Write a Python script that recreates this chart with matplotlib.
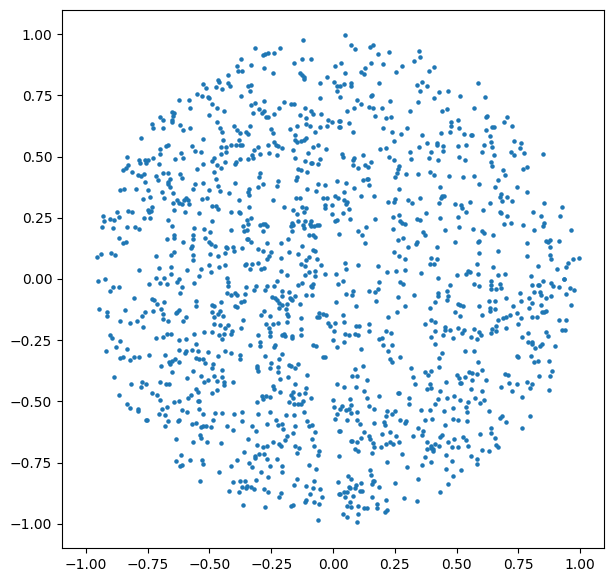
import matplotlib
matplotlib.use("Agg")
import matplotlib.pyplot as plt
import numpy as np

# Sampled points of the unit disc, grouped by quadrant as (x, y) pairs.
upper_left = [
(-0.120,0.974),(-0.315,0.941),(-0.213,0.941),(-0.282,0.913),(-0.274,0.917),(-0.262,0.921),(-0.238,0.921),(-0.371,0.896),(-0.124,0.896),(-0.088,0.900),
(-0.157,0.880),(-0.387,0.868),(-0.331,0.872),(-0.383,0.847),(-0.367,0.851),(-0.278,0.860),(-0.242,0.839),(-0.132,0.839),(-0.124,0.834),(-0.116,0.826),
(-0.116,0.815),(-0.424,0.831),(-0.023,0.823),(0.009,0.868),(0.005,0.806),(-0.051,0.802),(-0.464,0.811),(-0.460,0.806),(-0.525,0.794),(-0.424,0.798),
(-0.416,0.786),(-0.513,0.778),(-0.473,0.782),(-0.448,0.774),(-0.343,0.786),(-0.331,0.790),(-0.335,0.766),(0.018,0.786),(0.018,0.766),(-0.549,0.755),
(-0.529,0.749),(-0.505,0.741),(-0.501,0.737),(-0.371,0.745),(-0.051,0.737),(-0.622,0.729),(-0.582,0.729),(-0.278,0.725),(-0.197,0.721),(-0.315,0.717),
(-0.331,0.709),(-0.489,0.713),(-0.169,0.713),(-0.157,0.713),(-0.578,0.696),(-0.468,0.696),(-0.217,0.700),(-0.112,0.696),(-0.298,0.692),(-0.278,0.684),
(-0.286,0.676),(-0.440,0.684),(-0.323,0.676),(-0.088,0.684),(-0.080,0.672),(-0.653,0.680),(-0.642,0.676),(-0.646,0.664),(-0.653,0.651),(-0.650,0.642),
(-0.501,0.668),(-0.699,0.660),(-0.687,0.647),(-0.270,0.660),(-0.262,0.660),(-0.238,0.672),(-0.132,0.668),(-0.108,0.656),(-0.047,0.672),(-0.019,0.651),
(-0.003,0.639),(0.026,0.643),(-0.468,0.639),(-0.732,0.631),(-0.618,0.627),(-0.400,0.623),(-0.335,0.623),(-0.108,0.631),(-0.092,0.623),(-0.144,0.623),
(-0.051,0.619),(-0.023,0.623),(0.026,0.619),(-0.728,0.615),(-0.687,0.615),(-0.606,0.607),(-0.578,0.615),(-0.456,0.615),(-0.448,0.598),(-0.387,0.607),
(-0.375,0.594),(-0.351,0.602),(-0.343,0.590),(-0.250,0.611),(-0.242,0.594),(-0.173,0.611),(-0.072,0.598),(-0.153,0.586),(-0.776,0.574),(-0.525,0.570),
(-0.444,0.566),(-0.379,0.566),(-0.153,0.566),(-0.144,0.558),(-0.128,0.562),(-0.116,0.566),(-0.108,0.574),(-0.238,0.558),(-0.229,0.549),(-0.221,0.541),
(-0.205,0.533),(-0.262,0.549),(-0.412,0.549),(-0.392,0.545),(-0.375,0.545),(-0.367,0.545),(-0.059,0.549),(-0.080,0.537),(-0.452,0.537),(-0.432,0.537),
(-0.570,0.541),(-0.674,0.541),(-0.667,0.545),(-0.699,0.529),(-0.305,0.537),(-0.319,0.525),(-0.557,0.521),(-0.536,0.517),(-0.027,0.529),(-0.161,0.525),
(-0.100,0.513),(-0.699,0.509),(-0.614,0.513),(-0.432,0.517),(-0.452,0.509),(-0.258,0.513),(-0.294,0.509),(-0.225,0.505),(-0.329,0.505),(-0.323,0.492),
(-0.343,0.488),(-0.833,0.496),(-0.480,0.492),(-0.489,0.480),(-0.606,0.492),(-0.639,0.488),(-0.784,0.484),(-0.780,0.472),(-0.760,0.484),(-0.756,0.472),
(-0.748,0.484),(-0.728,0.492),(-0.392,0.478),(-0.375,0.488),(-0.396,0.468),(-0.153,0.492),(-0.051,0.488),(-0.112,0.480),(-0.088,0.472),(-0.084,0.472),
(-0.059,0.468),(-0.703,0.468),(-0.436,0.476),(-0.525,0.468),(-0.829,0.464),(-0.837,0.452),(-0.849,0.443),(-0.468,0.464),(-0.452,0.452),(-0.549,0.447),
(-0.140,0.447),(-0.128,0.443),(-0.104,0.435),(-0.480,0.435),(-0.813,0.435),(-0.294,0.431),(-0.298,0.415),(-0.788,0.424),(-0.776,0.419),(-0.764,0.427),
(-0.718,0.419),(-0.710,0.403),(-0.687,0.431),(-0.667,0.431),(-0.618,0.427),(-0.610,0.411),(-0.144,0.415),(-0.149,0.403),(-0.473,0.407),(-0.659,0.407),
(-0.667,0.394),(-0.667,0.386),(-0.659,0.374),(-0.760,0.394),(-0.525,0.390),(-0.557,0.386),(-0.566,0.366),(-0.396,0.390),(-0.221,0.398),(-0.225,0.378),
(-0.282,0.386),(-0.302,0.374),(0.018,0.398),(-0.059,0.386),(-0.031,0.382),(-0.464,0.378),(-0.456,0.358),(-0.861,0.362),(-0.845,0.366),(-0.796,0.366),
(-0.748,0.362),(-0.501,0.362),(-0.339,0.366),(-0.343,0.354),(-0.339,0.341),(-0.104,0.366),(-0.067,0.358),(-0.692,0.354),(-0.646,0.350),(-0.420,0.350),
(-0.741,0.333),(-0.768,0.325),(-0.685,0.329),(-0.529,0.325),(-0.509,0.329),(-0.594,0.329),(-0.602,0.321),(-0.586,0.321),(-0.582,0.305),(-0.610,0.305),
(-0.622,0.309),(-0.630,0.321),(-0.646,0.309),(-0.379,0.321),(-0.242,0.321),(-0.149,0.329),(-0.132,0.329),(-0.039,0.329),(-0.023,0.329),(0.009,0.337),
(0.022,0.329),(-0.489,0.296),(-0.473,0.296),(-0.464,0.284),(-0.031,0.301),(-0.031,0.288),(-0.003,0.301),(-0.339,0.292),(-0.197,0.292),(-0.124,0.292),
(-0.108,0.288),(-0.116,0.272),(-0.161,0.280),(-0.733,0.292),(-0.749,0.280),(-0.737,0.276),(-0.745,0.272),(-0.642,0.280),(-0.829,0.276),(-0.813,0.272),
(-0.873,0.272),(-0.598,0.272),(-0.541,0.268),(-0.412,0.272),(-0.379,0.272),(-0.375,0.268),(-0.003,0.264),(-0.144,0.264),(-0.930,0.256),(-0.866,0.252),
(-0.764,0.248),(-0.740,0.248),(-0.331,0.248),(-0.902,0.243),(-0.886,0.239),(-0.926,0.235),(-0.667,0.239),(-0.489,0.235),(-0.350,0.239),(-0.343,0.223),
(-0.363,0.215),(-0.112,0.235),(-0.088,0.235),(-0.140,0.235),(0.018,0.239),(0.009,0.235),(-0.165,0.227),(-0.169,0.215),(-0.161,0.219),(-0.294,0.219),
(-0.282,0.223),(-0.274,0.223),(-0.266,0.215),(-0.120,0.219),(-0.116,0.207),(-0.092,0.223),(-0.088,0.215),(-0.076,0.215),(-0.063,0.219),(-0.055,0.219),
(-0.935,0.211),(-0.890,0.207),(-0.833,0.211),(-0.800,0.211),(-0.784,0.203),(-0.650,0.215),(-0.562,0.207),(-0.521,0.203),(-0.412,0.199),(-0.359,0.194),
(-0.347,0.199),(-0.282,0.194),(-0.165,0.194),(-0.496,0.190),(-0.642,0.179),(-0.642,0.166),(-0.671,0.162),(-0.566,0.179),(-0.566,0.162),(-0.517,0.166),
(-0.096,0.179),(-0.080,0.179),(-0.072,0.170),(0.026,0.182),(-0.866,0.166),(-0.181,0.162),(-0.350,0.162),(-0.343,0.162),(-0.331,0.150),(-0.849,0.146),
(-0.837,0.150),(-0.606,0.150),(-0.501,0.150),(-0.493,0.141),(-0.477,0.133),(-0.266,0.146),(-0.209,0.146),(-0.570,0.133),(-0.574,0.125),(-0.124,0.133),
(-0.432,0.129),(-0.428,0.125),(-0.403,0.129),(-0.399,0.113),(-0.367,0.125),(-0.302,0.121),(-0.282,0.113),(-0.080,0.117),(-0.072,0.113),(-0.642,0.109),
(-0.655,0.097),(-0.938,0.101),(-0.898,0.105),(-0.882,0.097),(-0.954,0.088),(-0.715,0.092),(-0.566,0.097),(-0.566,0.076),(-0.496,0.101),(-0.464,0.092),
(-0.436,0.105),(-0.177,0.109),(-0.140,0.101),(-0.250,0.109),(-0.258,0.092),(-0.266,0.080),(-0.209,0.084),(-0.096,0.088),(-0.108,0.076),(-0.063,0.080),
(-0.128,0.060),(-0.112,0.052),(-0.047,0.056),(-0.351,0.060),(-0.355,0.056),(-0.327,0.060),(-0.335,0.039),(-0.302,0.064),(-0.290,0.039),(-0.278,0.044),
(-0.501,0.056),(-0.436,0.056),(-0.460,0.048),(-0.493,0.027),(-0.703,0.044),(-0.655,0.048),(-0.590,0.035),(-0.533,0.039),(-0.784,0.035),(-0.655,0.019),
(-0.541,0.011),(-0.209,0.031),(-0.185,0.015),(-0.096,0.027),(-0.112,0.015),(-0.072,0.031),(-0.072,0.011),(-0.031,0.019),(0.013,0.019),(-0.715,0.003),
(-0.683,0.003),(-0.622,-0.001),(-0.922,-0.001),(-0.428,0.003),
]
upper_right = [
(0.050,0.994),(0.074,0.957),(0.090,0.937),(0.151,0.949),(0.163,0.957),(0.228,0.925),(0.184,0.917),(0.350,0.929),(0.354,0.908),(0.329,0.888),
(0.034,0.880),(0.155,0.880),(0.204,0.876),(0.131,0.860),(0.115,0.843),(0.127,0.835),(0.281,0.868),(0.410,0.864),(0.390,0.851),(0.050,0.839),
(0.257,0.843),(0.188,0.802),(0.362,0.806),(0.342,0.790),(0.382,0.786),(0.585,0.798),(0.074,0.798),(0.074,0.786),(0.046,0.794),(0.028,0.786),
(0.354,0.766),(0.431,0.762),(0.467,0.766),(0.155,0.745),(0.159,0.753),(0.030,0.741),(0.516,0.745),(0.617,0.741),(0.410,0.737),(0.099,0.729),
(0.115,0.713),(0.232,0.725),(0.346,0.721),(0.147,0.704),(0.163,0.696),(0.200,0.696),(0.086,0.696),(0.058,0.684),(0.313,0.684),(0.572,0.700),
(0.443,0.684),(0.463,0.692),(0.171,0.664),(0.216,0.656),(0.236,0.660),(0.621,0.660),(0.625,0.664),(0.706,0.660),(0.694,0.639),(0.726,0.623),
(0.508,0.651),(0.479,0.639),(0.479,0.623),(0.066,0.635),(0.030,0.643),(0.030,0.619),(0.645,0.619),(0.653,0.619),(0.204,0.615),(0.301,0.615),
(0.512,0.615),(0.082,0.602),(0.475,0.602),(0.621,0.607),(0.240,0.598),(0.277,0.590),(0.439,0.594),(0.532,0.590),(0.560,0.586),(0.564,0.586),
(0.362,0.586),(0.637,0.582),(0.248,0.562),(0.734,0.562),(0.763,0.554),(0.641,0.558),(0.613,0.549),(0.382,0.554),(0.419,0.554),(0.423,0.549),
(0.350,0.537),(0.447,0.541),(0.508,0.541),(0.540,0.545),(0.645,0.537),(0.216,0.533),(0.192,0.529),(0.755,0.533),(0.313,0.517),(0.398,0.517),
(0.447,0.521),(0.605,0.517),(0.722,0.517),(0.775,0.513),(0.734,0.505),(0.852,0.509),(0.653,0.505),(0.038,0.509),(0.042,0.500),(0.123,0.505),
(0.228,0.500),(0.248,0.484),(0.512,0.500),(0.536,0.484),(0.390,0.492),(0.427,0.484),(0.317,0.488),(0.082,0.484),(0.086,0.492),(0.155,0.476),
(0.131,0.464),(0.143,0.456),(0.641,0.476),(0.645,0.460),(0.082,0.464),(0.103,0.452),(0.269,0.460),(0.265,0.447),(0.261,0.431),(0.252,0.415),
(0.787,0.456),(0.771,0.447),(0.690,0.443),(0.698,0.423),(0.394,0.435),(0.410,0.423),(0.297,0.427),(0.346,0.427),(0.471,0.419),(0.528,0.415),
(0.572,0.419),(0.123,0.403),(0.139,0.407),(0.143,0.407),(0.054,0.390),(0.147,0.382),(0.589,0.386),(0.666,0.403),(0.086,0.370),(0.269,0.366),
(0.435,0.374),(0.657,0.374),(0.743,0.374),(0.787,0.354),(0.046,0.354),(0.115,0.337),(0.167,0.337),(0.682,0.345),(0.678,0.333),(0.706,0.333),
(0.726,0.317),(0.443,0.337),(0.439,0.329),(0.451,0.337),(0.354,0.329),(0.252,0.325),(0.248,0.313),(0.224,0.313),(0.305,0.321),(0.321,0.309),
(0.046,0.321),(0.058,0.313),(0.054,0.305),(0.431,0.309),(0.495,0.305),(0.520,0.301),(0.524,0.288),(0.556,0.313),(0.637,0.309),(0.686,0.317),
(0.856,0.309),(0.925,0.292),(0.066,0.284),(0.609,0.280),(0.674,0.272),(0.682,0.268),(0.540,0.272),(0.378,0.268),(0.042,0.268),(0.811,0.272),
(0.706,0.256),(0.844,0.256),(0.917,0.256),(0.244,0.252),(0.269,0.260),(0.508,0.252),(0.435,0.248),(0.171,0.243),(0.070,0.243),(0.342,0.243),
(0.354,0.239),(0.273,0.235),(0.281,0.227),(0.293,0.223),(0.694,0.223),(0.722,0.227),(0.771,0.219),(0.856,0.227),(0.852,0.215),(0.135,0.211),
(0.244,0.203),(0.512,0.211),(0.568,0.203),(0.455,0.199),(0.605,0.194),(0.613,0.186),(0.815,0.199),(0.965,0.199),(0.103,0.194),(0.119,0.178),
(0.366,0.190),(0.374,0.178),(0.649,0.178),(0.285,0.166),(0.265,0.158),(0.864,0.154),(0.880,0.158),(0.872,0.150),(0.913,0.154),(0.131,0.146),
(0.342,0.150),(0.338,0.141),(0.495,0.150),(0.589,0.154),(0.585,0.150),(0.787,0.146),(0.423,0.129),(0.305,0.129),(0.880,0.129),(0.248,0.109),
(0.666,0.113),(0.589,0.105),(0.269,0.092),(0.787,0.092),(0.880,0.097),(0.884,0.080),(0.293,0.080),(0.398,0.084),(0.419,0.080),(0.973,0.080),
(0.994,0.084),(0.953,0.064),(0.945,0.048),(0.394,0.060),(0.410,0.060),(0.581,0.060),(0.050,0.064),(0.103,0.056),(0.184,0.052),(0.828,0.052),
(0.649,0.048),(0.905,0.039),(0.054,0.039),(0.220,0.027),(0.257,0.031),(0.293,0.035),(0.358,0.023),(0.500,0.015),(0.540,0.019),(0.548,0.031),
(0.556,0.027),(0.585,0.019),(0.666,0.015),(0.698,0.019),(0.803,0.011),(0.427,0.003),(0.937,0.000),
]
lower_left = [
(-0.950,-0.010),(-0.699,-0.018),(-0.671,-0.022),(-0.630,-0.014),(-0.744,-0.022),(-0.562,-0.018),(-0.424,-0.014),(-0.424,-0.030),(-0.890,-0.034),(-0.865,-0.034),
(-0.902,-0.050),(-0.610,-0.034),(-0.618,-0.058),(-0.351,-0.034),(-0.311,-0.030),(-0.319,-0.046),(-0.266,-0.030),(-0.274,-0.046),(-0.238,-0.030),(-0.225,-0.010),
(-0.205,-0.050),(-0.177,-0.054),(-0.140,-0.026),(-0.124,-0.018),(-0.088,-0.030),(-0.080,-0.022),(-0.084,-0.034),(0.022,-0.022),(-0.428,-0.058),(-0.412,-0.067),
(-0.396,-0.058),(-0.388,-0.067),(-0.355,-0.063),(-0.205,-0.071),(-0.173,-0.079),(-0.165,-0.087),(-0.153,-0.071),(-0.169,-0.083),(-0.108,-0.067),(-0.084,-0.067),
(-0.246,-0.075),(-0.234,-0.079),(-0.225,-0.087),(-0.805,-0.079),(-0.732,-0.083),(-0.724,-0.087),(-0.711,-0.103),(-0.683,-0.095),(-0.554,-0.091),(-0.554,-0.112),
(-0.452,-0.095),(-0.359,-0.091),(-0.371,-0.095),(-0.491,-0.107),(-0.483,-0.112),(-0.396,-0.112),(-0.387,-0.116),(-0.217,-0.099),(-0.205,-0.107),(-0.217,-0.120),
(-0.185,-0.103),(-0.189,-0.124),(-0.132,-0.103),(0.013,-0.095),(-0.946,-0.124),(-0.915,-0.136),(-0.915,-0.152),(-0.841,-0.128),(-0.760,-0.136),(-0.772,-0.152),
(-0.792,-0.173),(-0.821,-0.181),(-0.728,-0.132),(-0.695,-0.124),(-0.687,-0.144),(-0.622,-0.128),(-0.630,-0.136),(-0.634,-0.140),(-0.489,-0.136),(-0.456,-0.132),
(-0.464,-0.144),(-0.481,-0.156),(-0.444,-0.152),(-0.278,-0.132),(-0.290,-0.148),(-0.254,-0.152),(-0.185,-0.144),(-0.181,-0.152),(-0.055,-0.140),(-0.039,-0.144),
(-0.027,-0.148),(-0.063,-0.156),(-0.055,-0.156),(-0.594,-0.156),(-0.606,-0.173),(-0.687,-0.165),(-0.667,-0.173),(-0.861,-0.173),(-0.128,-0.160),(-0.363,-0.169),
(-0.185,-0.177),(-0.481,-0.185),(-0.456,-0.189),(-0.436,-0.201),(-0.424,-0.189),(-0.270,-0.185),(-0.242,-0.185),(-0.221,-0.181),(-0.258,-0.201),(-0.019,-0.181),
(-0.011,-0.193),(0.009,-0.181),(0.005,-0.214),(-0.768,-0.197),(-0.371,-0.201),(-0.128,-0.205),(-0.408,-0.214),(-0.412,-0.226),(-0.440,-0.226),(-0.521,-0.218),
(-0.489,-0.218),(-0.562,-0.226),(-0.671,-0.226),(-0.655,-0.226),(-0.687,-0.238),(-0.715,-0.242),(-0.460,-0.230),(-0.448,-0.246),(-0.302,-0.230),(-0.254,-0.218),
(-0.254,-0.234),(-0.205,-0.230),(-0.197,-0.226),(-0.193,-0.234),(-0.165,-0.234),(-0.165,-0.242),(-0.128,-0.230),(-0.902,-0.230),(-0.894,-0.242),(-0.622,-0.250),
(-0.594,-0.246),(-0.861,-0.254),(0.001,-0.250),(-0.294,-0.258),(-0.335,-0.271),(-0.294,-0.275),(-0.554,-0.267),(-0.234,-0.271),(-0.238,-0.279),(-0.080,-0.271),
(-0.067,-0.275),(0.018,-0.279),(-0.878,-0.279),(-0.833,-0.287),(-0.918,-0.295),(-0.622,-0.291),(-0.594,-0.295),(-0.598,-0.303),(-0.570,-0.291),(-0.545,-0.295),
(-0.505,-0.299),(-0.436,-0.295),(-0.412,-0.303),(-0.744,-0.311),(-0.679,-0.311),(-0.464,-0.315),(-0.375,-0.311),(-0.375,-0.328),(-0.274,-0.315),(-0.205,-0.307),
(-0.217,-0.328),(-0.039,-0.320),(-0.031,-0.320),(-0.861,-0.324),(-0.849,-0.320),(-0.821,-0.332),(-0.805,-0.320),(-0.784,-0.320),(-0.554,-0.324),(-0.541,-0.328),
(-0.525,-0.328),(-0.517,-0.344),(-0.639,-0.328),(-0.650,-0.336),(-0.663,-0.340),(-0.659,-0.348),(-0.622,-0.340),(-0.485,-0.348),(-0.489,-0.364),(-0.250,-0.344),
(-0.254,-0.364),(-0.140,-0.348),(-0.177,-0.352),(-0.169,-0.356),(-0.153,-0.364),(-0.695,-0.356),(-0.306,-0.356),(-0.306,-0.364),(-0.302,-0.377),(-0.221,-0.360),
(-0.221,-0.381),(-0.448,-0.373),(-0.567,-0.377),(-0.650,-0.381),(-0.104,-0.393),(-0.886,-0.401),(-0.536,-0.397),(-0.480,-0.397),(-0.448,-0.401),(-0.590,-0.405),
(-0.213,-0.409),(-0.181,-0.401),(-0.505,-0.413),(-0.521,-0.421),(-0.468,-0.418),(-0.440,-0.421),(-0.440,-0.434),(-0.406,-0.421),(-0.817,-0.430),(-0.772,-0.421),
(-0.756,-0.430),(-0.776,-0.442),(-0.699,-0.421),(-0.675,-0.430),(-0.663,-0.430),(-0.153,-0.430),(-0.108,-0.446),(0.018,-0.430),(-0.242,-0.438),(-0.238,-0.450),
(-0.554,-0.450),(-0.545,-0.462),(-0.468,-0.454),(-0.489,-0.466),(-0.213,-0.462),(-0.161,-0.462),(-0.169,-0.475),(-0.161,-0.484),(-0.136,-0.471),(-0.112,-0.466),
(-0.732,-0.466),(-0.711,-0.475),(-0.865,-0.475),(-0.574,-0.475),(-0.586,-0.487),(-0.286,-0.479),(-0.270,-0.479),(-0.254,-0.483),(-0.282,-0.491),(-0.088,-0.487),
(-0.699,-0.495),(-0.642,-0.503),(-0.622,-0.499),(-0.548,-0.499),(-0.544,-0.499),(0.001,-0.495),(-0.177,-0.503),(-0.157,-0.511),(-0.140,-0.511),(-0.128,-0.511),
(-0.120,-0.499),(-0.306,-0.503),(-0.833,-0.511),(-0.821,-0.528),(-0.788,-0.532),(-0.788,-0.540),(-0.671,-0.524),(-0.691,-0.532),(-0.541,-0.532),(-0.610,-0.536),
(-0.590,-0.544),(0.005,-0.524),(-0.477,-0.548),(-0.448,-0.548),(-0.400,-0.552),(-0.367,-0.544),(-0.254,-0.544),(-0.302,-0.552),(-0.116,-0.544),(-0.525,-0.552),
(-0.703,-0.552),(-0.679,-0.556),(-0.189,-0.556),(-0.157,-0.556),(0.018,-0.552),(0.009,-0.573),(-0.667,-0.581),(-0.622,-0.577),(-0.626,-0.581),(-0.756,-0.577),
(-0.752,-0.577),(-0.487,-0.577),(-0.367,-0.581),(-0.229,-0.577),(-0.104,-0.581),(-0.570,-0.593),(-0.554,-0.589),(-0.266,-0.593),(-0.221,-0.597),(-0.205,-0.593),
(-0.084,-0.597),(-0.096,-0.601),(-0.536,-0.605),(-0.525,-0.601),(-0.513,-0.601),(-0.493,-0.605),(-0.679,-0.601),(-0.428,-0.601),(-0.327,-0.601),(-0.153,-0.601),
(-0.404,-0.617),(-0.311,-0.622),(-0.201,-0.613),(-0.072,-0.626),(-0.161,-0.630),(0.026,-0.622),(-0.537,-0.638),(-0.533,-0.650),(-0.185,-0.642),(-0.193,-0.658),
(-0.634,-0.654),(-0.343,-0.654),(-0.084,-0.654),(-0.566,-0.666),(-0.509,-0.666),(-0.452,-0.670),(-0.242,-0.666),(-0.217,-0.675),(-0.209,-0.683),(-0.306,-0.679),
(-0.282,-0.687),(-0.266,-0.683),(-0.153,-0.683),(-0.136,-0.691),(-0.076,-0.683),(-0.055,-0.703),(-0.059,-0.719),(-0.144,-0.711),(-0.359,-0.707),(-0.298,-0.715),
(-0.278,-0.715),(-0.315,-0.723),(-0.315,-0.732),(-0.614,-0.719),(-0.634,-0.744),(-0.578,-0.740),(-0.529,-0.740),(0.026,-0.724),(-0.387,-0.740),(-0.266,-0.736),
(-0.225,-0.736),(-0.525,-0.756),(-0.610,-0.760),(-0.618,-0.764),(-0.339,-0.752),(-0.327,-0.768),(-0.412,-0.764),(-0.254,-0.764),(-0.205,-0.764),(-0.096,-0.760),
(-0.067,-0.777),(-0.460,-0.789),(-0.290,-0.789),(-0.205,-0.789),(-0.262,-0.809),(-0.144,-0.817),(-0.537,-0.825),(-0.404,-0.830),(-0.375,-0.825),(-0.355,-0.825),
(-0.311,-0.821),(-0.076,-0.825),(0.022,-0.830),(-0.157,-0.842),(-0.108,-0.846),(-0.367,-0.850),(-0.351,-0.854),(-0.347,-0.846),(-0.331,-0.850),(-0.319,-0.858),
(-0.278,-0.858),(-0.080,-0.854),(-0.051,-0.858),(-0.420,-0.866),(-0.379,-0.870),(-0.262,-0.870),(-0.209,-0.875),(-0.092,-0.879),(0.026,-0.879),(-0.217,-0.891),
(-0.043,-0.891),(-0.108,-0.903),(-0.112,-0.911),(-0.076,-0.911),(-0.055,-0.919),(-0.363,-0.923),(-0.276,-0.932),(-0.169,-0.927),(-0.161,-0.923),(-0.059,-0.985),
]
lower_right = [
(0.042,-0.010),(0.188,-0.014),(0.273,-0.014),(0.285,-0.022),(0.475,-0.026),(0.572,-0.022),(0.593,-0.030),(0.641,-0.010),(0.641,-0.026),(0.641,-0.042),
(0.661,-0.042),(0.678,-0.022),(0.682,-0.038),(0.807,-0.026),(0.828,-0.026),(0.832,-0.026),(0.852,-0.010),(0.884,-0.018),(0.892,-0.030),(0.913,-0.034),
(0.937,-0.001),(0.961,-0.038),(0.977,-0.046),(0.082,-0.050),(0.078,-0.067),(0.054,-0.063),(0.147,-0.050),(0.171,-0.054),(0.184,-0.042),(0.463,-0.050),
(0.467,-0.071),(0.463,-0.087),(0.427,-0.058),(0.427,-0.071),(0.414,-0.095),(0.329,-0.067),(0.265,-0.075),(0.755,-0.058),(0.815,-0.054),(0.836,-0.054),
(0.840,-0.067),(0.945,-0.063),(0.884,-0.071),(0.864,-0.079),(0.702,-0.079),(0.795,-0.079),(0.763,-0.091),(0.176,-0.091),(0.633,-0.091),(0.657,-0.091),
(0.807,-0.099),(0.840,-0.107),(0.095,-0.112),(0.293,-0.112),(0.394,-0.120),(0.508,-0.103),(0.516,-0.107),(0.528,-0.112),(0.593,-0.112),(0.730,-0.112),
(0.795,-0.120),(0.965,-0.107),(0.637,-0.120),(0.637,-0.132),(0.657,-0.124),(0.261,-0.136),(0.495,-0.136),(0.516,-0.152),(0.605,-0.148),(0.743,-0.140),
(0.718,-0.148),(0.702,-0.156),(0.690,-0.160),(0.848,-0.136),(0.856,-0.136),(0.864,-0.132),(0.807,-0.156),(0.824,-0.156),(0.042,-0.148),(0.224,-0.156),
(0.763,-0.160),(0.913,-0.169),(0.945,-0.169),(0.666,-0.169),(0.046,-0.177),(0.147,-0.185),(0.374,-0.185),(0.398,-0.169),(0.414,-0.177),(0.747,-0.185),
(0.095,-0.193),(0.107,-0.193),(0.455,-0.197),(0.455,-0.209),(0.475,-0.209),(0.508,-0.201),(0.532,-0.209),(0.572,-0.205),(0.589,-0.218),(0.601,-0.230),
(0.645,-0.205),(0.661,-0.193),(0.661,-0.214),(0.641,-0.222),(0.702,-0.201),(0.925,-0.209),(0.941,-0.209),(0.147,-0.214),(0.216,-0.214),(0.236,-0.222),
(0.414,-0.214),(0.524,-0.222),(0.864,-0.218),(0.872,-0.234),(0.791,-0.222),(0.050,-0.226),(0.066,-0.230),(0.090,-0.226),(0.103,-0.230),(0.447,-0.230),
(0.487,-0.242),(0.398,-0.238),(0.560,-0.238),(0.581,-0.246),(0.767,-0.238),(0.188,-0.246),(0.200,-0.242),(0.046,-0.258),(0.791,-0.258),(0.807,-0.258),
(0.807,-0.267),(0.414,-0.267),(0.204,-0.271),(0.240,-0.271),(0.848,-0.267),(0.836,-0.275),(0.819,-0.283),(0.900,-0.275),(0.115,-0.287),(0.224,-0.295),
(0.536,-0.295),(0.572,-0.295),(0.443,-0.303),(0.273,-0.320),(0.431,-0.324),(0.743,-0.315),(0.747,-0.320),(0.803,-0.315),(0.232,-0.328),(0.240,-0.340),
(0.585,-0.340),(0.815,-0.340),(0.828,-0.336),(0.876,-0.336),(0.123,-0.356),(0.431,-0.360),(0.090,-0.369),(0.317,-0.364),(0.605,-0.373),(0.888,-0.377),
(0.374,-0.381),(0.398,-0.377),(0.386,-0.393),(0.552,-0.381),(0.564,-0.385),(0.581,-0.389),(0.500,-0.393),(0.512,-0.405),(0.536,-0.401),(0.698,-0.389),
(0.710,-0.393),(0.832,-0.397),(0.880,-0.397),(0.078,-0.397),(0.099,-0.397),(0.325,-0.401),(0.139,-0.413),(0.564,-0.413),(0.621,-0.413),(0.459,-0.421),
(0.516,-0.426),(0.520,-0.426),(0.714,-0.426),(0.743,-0.430),(0.787,-0.421),(0.807,-0.430),(0.333,-0.430),(0.394,-0.430),(0.046,-0.442),(0.095,-0.442),
(0.682,-0.442),(0.799,-0.446),(0.382,-0.450),(0.398,-0.446),(0.560,-0.450),(0.127,-0.458),(0.605,-0.458),(0.726,-0.458),(0.876,-0.454),(0.435,-0.458),
(0.265,-0.466),(0.269,-0.466),(0.188,-0.479),(0.491,-0.479),(0.309,-0.487),(0.463,-0.487),(0.139,-0.487),(0.427,-0.491),(0.070,-0.491),(0.767,-0.483),
(0.576,-0.487),(0.613,-0.495),(0.597,-0.507),(0.516,-0.495),(0.548,-0.503),(0.309,-0.511),(0.414,-0.511),(0.074,-0.515),(0.038,-0.519),(0.030,-0.532),
(0.147,-0.519),(0.167,-0.532),(0.487,-0.528),(0.540,-0.524),(0.220,-0.540),(0.252,-0.540),(0.240,-0.552),(0.216,-0.560),(0.358,-0.536),(0.394,-0.536),
(0.451,-0.540),(0.544,-0.544),(0.633,-0.540),(0.054,-0.536),(0.066,-0.532),(0.074,-0.548),(0.099,-0.544),(0.799,-0.560),(0.686,-0.560),(0.678,-0.568),
(0.058,-0.577),(0.099,-0.577),(0.111,-0.593),(0.273,-0.577),(0.297,-0.581),(0.293,-0.589),(0.374,-0.577),(0.402,-0.573),(0.487,-0.573),(0.504,-0.577),
(0.544,-0.581),(0.702,-0.585),(0.167,-0.589),(0.208,-0.585),(0.212,-0.597),(0.455,-0.597),(0.346,-0.609),(0.641,-0.609),(0.767,-0.609),(0.030,-0.622),
(0.366,-0.622),(0.127,-0.626),(0.232,-0.626),(0.641,-0.630),(0.597,-0.634),(0.362,-0.638),(0.200,-0.634),(0.147,-0.642),(0.257,-0.642),(0.325,-0.642),
(0.443,-0.638),(0.435,-0.646),(0.115,-0.650),(0.151,-0.654),(0.491,-0.654),(0.528,-0.646),(0.540,-0.658),(0.657,-0.650),(0.074,-0.662),(0.078,-0.662),
(0.099,-0.666),(0.163,-0.671),(0.269,-0.666),(0.232,-0.666),(0.244,-0.675),(0.216,-0.675),(0.196,-0.687),(0.167,-0.687),(0.382,-0.666),(0.414,-0.675),
(0.467,-0.666),(0.398,-0.683),(0.382,-0.695),(0.406,-0.695),(0.431,-0.683),(0.406,-0.703),(0.398,-0.691),(0.483,-0.687),(0.508,-0.687),(0.548,-0.683),
(0.661,-0.679),(0.666,-0.687),(0.090,-0.695),(0.103,-0.703),(0.159,-0.711),(0.605,-0.699),(0.633,-0.703),(0.281,-0.715),(0.459,-0.720),(0.374,-0.728),
(0.560,-0.724),(0.581,-0.736),(0.398,-0.748),(0.483,-0.744),(0.220,-0.748),(0.581,-0.756),(0.362,-0.760),(0.301,-0.768),(0.459,-0.777),(0.520,-0.781),
(0.151,-0.781),(0.155,-0.801),(0.062,-0.805),(0.074,-0.817),(0.487,-0.805),(0.346,-0.817),(0.163,-0.826),(0.167,-0.826),(0.159,-0.838),(0.115,-0.834),
(0.252,-0.834),(0.467,-0.838),(0.095,-0.842),(0.090,-0.854),(0.066,-0.850),(0.070,-0.854),(0.188,-0.850),(0.111,-0.866),(0.119,-0.866),(0.058,-0.870),
(0.046,-0.870),(0.030,-0.879),(0.435,-0.870),(0.082,-0.887),(0.050,-0.891),(0.159,-0.891),(0.289,-0.895),(0.342,-0.907),(0.216,-0.903),(0.070,-0.911),
(0.180,-0.919),(0.058,-0.928),(0.074,-0.932),(0.103,-0.928),(0.127,-0.936),(0.139,-0.936),(0.180,-0.936),(0.220,-0.944),(0.212,-0.952),(0.042,-0.960),
(0.103,-0.960),(0.058,-0.972),(0.099,-0.993),
]

points = np.array(upper_left + upper_right + lower_left + lower_right)
x, y = points[:, 0], points[:, 1]

fig = plt.figure(figsize=(6.14, 5.82), dpi=100)
ax = fig.add_axes([62 / 614, 34 / 582, 542 / 614, 538 / 582])
ax.scatter(x, y, s=5)
ax.set_xlim(-1.097, 1.097)
ax.set_ylim(-1.098, 1.098)
ax.set_xticks(np.arange(-1, 1.01, 0.25))
ax.set_yticks(np.arange(-1, 1.01, 0.25))
fig.savefig("out.png", dpi=100)
